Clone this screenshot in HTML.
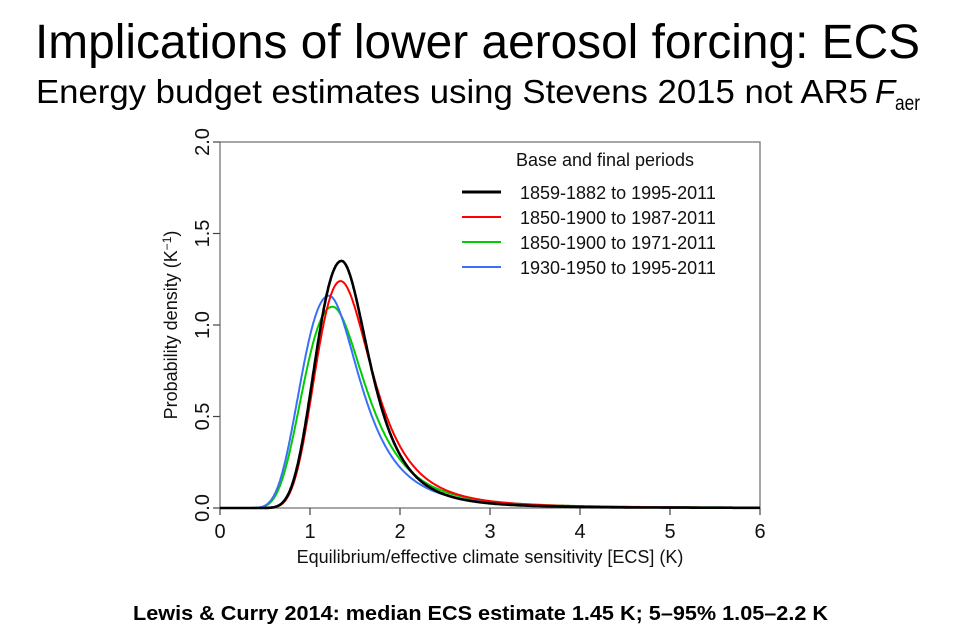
<!DOCTYPE html>
<html><head><meta charset="utf-8"><style>
html,body{margin:0;padding:0;background:#fff}
svg{display:block}
</style></head><body>
<svg id="s" width="960" height="636" viewBox="0 0 960 636" xmlns="http://www.w3.org/2000/svg" font-family="Liberation Sans, Arial, sans-serif">
<rect width="960" height="636" fill="#fff"/>
<text x="35" y="58" font-size="48" textLength="885" lengthAdjust="spacingAndGlyphs">Implications of lower aerosol forcing: ECS</text>
<text x="36" y="103" font-size="33" textLength="832" lengthAdjust="spacingAndGlyphs">Energy budget estimates using Stevens 2015 not AR5</text>
<text x="875" y="103" font-size="33" font-style="italic">F</text>
<text x="895" y="110" font-size="21" textLength="25" lengthAdjust="spacingAndGlyphs">aer</text>
<text x="133" y="620" font-size="20" font-weight="bold" textLength="695" lengthAdjust="spacingAndGlyphs">Lewis &amp; Curry 2014: median ECS estimate 1.45 K; 5–95%  1.05–2.2 K</text>
<rect x="220" y="142" width="540" height="366" fill="none" stroke="#777" stroke-width="1.3"/>
<g id="ticks" stroke="#444" stroke-width="1.2"></g>
<g font-size="20" fill="#111" text-anchor="middle">
<text x="220" y="538">0</text><text x="310" y="538">1</text><text x="400" y="538">2</text><text x="490" y="538">3</text><text x="580" y="538">4</text><text x="670" y="538">5</text><text x="760" y="538">6</text>
<text x="490" y="563" font-size="18">Equilibrium/effective climate sensitivity [ECS] (K)</text>
<g transform="translate(209,0)">
<text transform="translate(0,508) rotate(-90)">0.0</text>
<text transform="translate(0,416.5) rotate(-90)">0.5</text>
<text transform="translate(0,325) rotate(-90)">1.0</text>
<text transform="translate(0,233.5) rotate(-90)">1.5</text>
<text transform="translate(0,142) rotate(-90)">2.0</text>
</g>
<text transform="translate(177,325) rotate(-90)" font-size="18">Probability density (K<tspan font-size="12" dy="-6">−1</tspan><tspan dy="6">)</tspan></text>
</g>
<g id="curves" fill="none" stroke-width="2"></g>
<g font-size="18" fill="#111">
<text x="605" y="166" text-anchor="middle">Base and final periods</text>
<line x1="462" y1="192" x2="501" y2="192" stroke="#000" stroke-width="3"/>
<line x1="462" y1="217" x2="501" y2="217" stroke="#f00" stroke-width="2"/>
<line x1="462" y1="242" x2="501" y2="242" stroke="#0c0" stroke-width="2"/>
<line x1="462" y1="267" x2="501" y2="267" stroke="#3a6ff7" stroke-width="2"/>
<text x="520" y="199">1859-1882 to 1995-2011</text>
<text x="520" y="224">1850-1900 to 1987-2011</text>
<text x="520" y="249">1850-1900 to 1971-2011</text>
<text x="520" y="274">1930-1950 to 1995-2011</text>
</g>
</svg>
<script>
var t=document.getElementById("ticks"),h="";
for(var i=0;i<=6;i++){var x=220+90*i;h+='<line x1="'+x+'" y1="508" x2="'+x+'" y2="515"/>';}
for(var j=0;j<=4;j++){var y=508-91.5*j;h+='<line x1="213" y1="'+y+'" x2="220" y2="'+y+'"/>';}
t.innerHTML=h;
var ser=[["#0c0",1.25,0.30,0.27,1.10],["#3a6ff7",1.21,0.295,0.262,1.16],["#f00",1.34,0.235,0.243,1.24],["#000",1.35,0.24,0.215,1.35]];
var c=document.getElementById("curves"),out="";
ser.forEach(function(s){
 var d="M220,508";
 for(var k=1;k<=1200;k++){var x=k*0.005;var l=Math.log(x/s[1]);var p;
  if(l<0){var z=l/s[2];p=Math.exp(-z*z/2);} else {var z=l/s[3];p=Math.pow(1+z*z/5,-3);}
  d+="L"+(220+90*x).toFixed(1)+","+(508-183*p*s[4]).toFixed(1);}
 out+='<path d="'+d+'" stroke="'+s[0]+'" stroke-width="'+(s[0]=="#000"?2.6:2)+'"/>';
});
c.innerHTML=out;
</script>
</body></html>
